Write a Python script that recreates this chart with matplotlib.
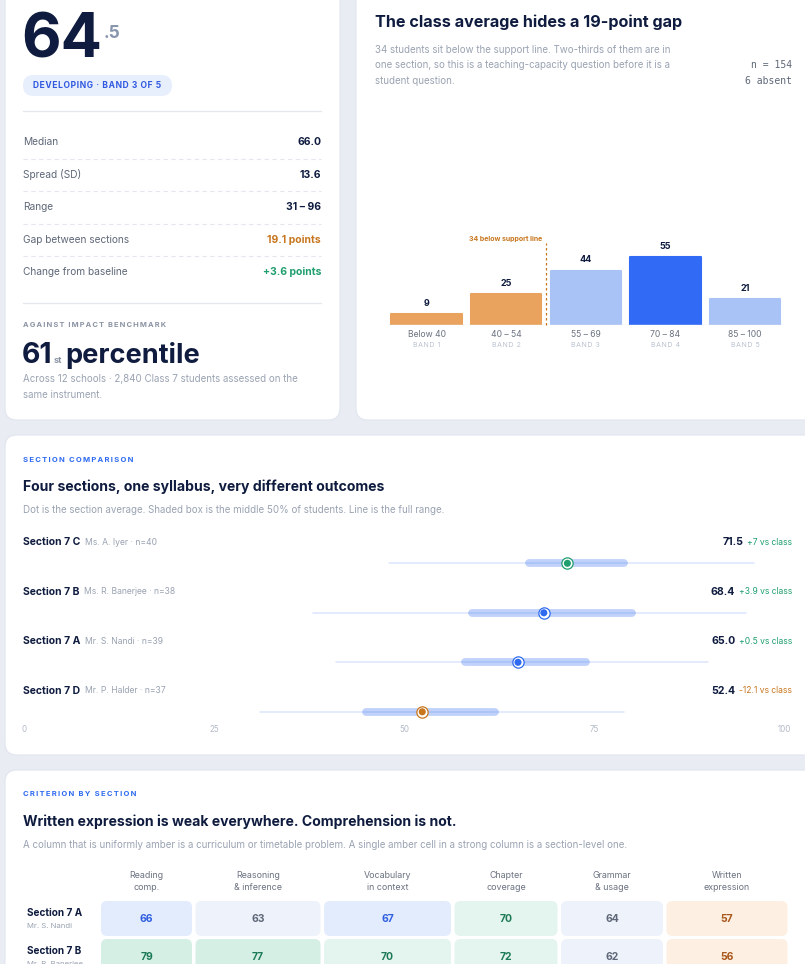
import numpy as np
import matplotlib
matplotlib.use("Agg")
import matplotlib.pyplot as plt
from matplotlib.patches import FancyBboxPatch

plt.rcParams['font.family'] = ['Inter', 'DejaVu Sans']

# ---- data ----
headline_whole = "64"
headline_frac = ".5"
class_mean = 64.5
badge_text = "DEVELOPING · BAND 3 OF 5"
stat_labels = ["Median", "Spread (SD)", "Range", "Gap between sections", "Change from baseline"]
stat_values = ["66.0", "13.6", "31 – 96", "19.1 points", "+3.6 points"]
stat_tone = ["plain", "plain", "plain", "warn", "good"]
percentile = 61

band_ranges = ["Below 40", "40 – 54", "55 – 69", "70 – 84", "85 – 100"]
band_names = ["BAND 1", "BAND 2", "BAND 3", "BAND 4", "BAND 5"]
band_counts = [9, 25, 44, 55, 21]
below_support = 34
n_total = 154
n_absent = 6

sections = ["Section 7 C", "Section 7 B", "Section 7 A", "Section 7 D"]
teachers = ["Ms. A. Iyer", "Ms. R. Banerjee", "Mr. S. Nandi", "Mr. P. Halder"]
n_students = [40, 38, 39, 37]
sec_mean = [71.5, 68.4, 65.0, 52.4]
sec_min = [48, 38, 41, 31]
sec_q1 = [66, 58.5, 57.5, 44.5]
sec_q3 = [79.5, 80.5, 74.5, 62.5]
sec_max = [96, 95, 90, 79]

criteria = ["Reading\ncomp.", "Reasoning\n& inference", "Vocabulary\nin context",
            "Chapter\ncoverage", "Grammar\n& usage", "Written\nexpression"]
heat_sections = ["Section 7 A", "Section 7 B"]
heat_teachers = ["Mr. S. Nandi", "Mr. R. Banerjee"]
scores_7a = [66, 63, 67, 70, 64, 57]
scores_7b = [79, 77, 70, 72, 62, 56]

# ---- colours ----
NAVY = "#0f1c3f"
GREY = "#5f6878"
LIGHT = "#9aa3b2"
BLUE = "#2f6bf0"
ORANGE = "#c8761e"
GREEN = "#1f9e6e"
BG = "#e9ecf3"

W, H = 805, 964
fig = plt.figure(figsize=(W / 100, H / 100), dpi=100)
fig.patch.set_facecolor(BG)


def px(x0, y0, x1, y1):
    return [x0 / W, 1 - y1 / H, (x1 - x0) / W, (y1 - y0) / H]


def track(s, sp="\u2009"):
    # fake letter spacing for the small caps labels
    return sp.join(s)


bg = fig.add_axes([0, 0, 1, 1])
bg.set_xlim(0, W)
bg.set_ylim(H, 0)
bg.axis("off")
bg.set_facecolor("none")


def card(x, y, w, h):
    bg.add_patch(FancyBboxPatch((x, y), w, h, boxstyle="round,pad=0,rounding_size=12",
                                fc="white", ec="#e1e5ee", lw=0.8))


card(5, -30, 335, 450)
card(356, -30, 480, 450)
card(5, 435, 830, 320)
card(5, 770, 830, 240)

# ---- left card: headline number + stats ----
t64 = bg.text(21, 58, headline_whole, fontsize=44, fontweight="bold", color=NAVY, va="baseline")
bg.annotate(headline_frac, xy=(1, 38), xycoords=(t64, "data"), xytext=(1, 0),
            textcoords="offset points", fontsize=12.5, fontweight="bold", color="#8796ad",
            va="baseline", ha="left")

bg.add_patch(FancyBboxPatch((23, 75), 149, 21, boxstyle="round,pad=0,rounding_size=10.5",
                            fc="#e7eefc", ec="none"))
bg.text(97.5, 86, track(badge_text, "\u200a"), fontsize=6.1, fontweight="bold", color="#3159e0",
        ha="center", va="center")

bg.plot([23, 321], [111, 111], color="#e4e7ee", lw=0.9)
row_y = [142, 175, 207, 240, 272]
tone_col = {"plain": NAVY, "warn": ORANGE, "good": GREEN}
for i, (lab, val, tone) in enumerate(zip(stat_labels, stat_values, stat_tone)):
    y = row_y[i]
    bg.text(23, y, lab, fontsize=7.3, color=GREY, va="center")
    bg.text(321, y, val, fontsize=7.5, fontweight="bold", color=tone_col[tone], ha="right", va="center")
    if i < len(stat_labels) - 1:
        yy = (row_y[i] + row_y[i + 1]) / 2
        bg.plot([23, 321], [yy, yy], color="#e4e7ee", lw=0.8, ls=(0, (4, 3)))
bg.plot([23, 321], [303, 303], color="#e4e7ee", lw=0.9)

bg.text(23, 325, track("AGAINST IMPACT BENCHMARK"), fontsize=5.4, fontweight="bold",
        color="#8b93a3", va="center")
t61 = bg.text(22, 363, str(percentile), fontsize=20.5, fontweight="bold", color=NAVY, va="baseline")
tst = bg.annotate("st", xy=(1, 363), xycoords=(t61, "data"), xytext=(0.5, 0),
                  textcoords="offset points", fontsize=6.5, fontweight="bold", color="#8b93a3",
                  va="baseline", ha="left")
bg.annotate("percentile", xy=(1, 363), xycoords=(tst, "data"), xytext=(2.5, 0),
            textcoords="offset points", fontsize=19.5, fontweight="bold", color=NAVY,
            va="baseline", ha="left")
bg.text(23, 379, "Across 12 schools · 2,840 Class 7 students assessed on the", fontsize=7.0,
        color=LIGHT, va="center")
bg.text(23, 395, "same instrument.", fontsize=7.0, color=LIGHT, va="center")

# ---- right card: band distribution ----
bg.text(375, 22, "The class average hides a 19-point gap", fontsize=11.6, fontweight="bold",
        color=NAVY, va="center")
sub = ["34 students sit below the support line. Two-thirds of them are in",
       "one section, so this is a teaching-capacity question before it is a",
       "student question."]
for k, line in enumerate(sub):
    bg.text(375, 50 + 15.5 * k, line, fontsize=7.0, color=LIGHT, va="center")
bg.text(792, 65.5, f"n = {n_total}", fontsize=7.0, color=GREY, ha="right", va="center",
        family="DejaVu Sans Mono")
bg.text(792, 81, f"{n_absent} absent", fontsize=7.0, color=GREY, ha="right", va="center",
        family="DejaVu Sans Mono")

axb = fig.add_axes(px(386.7, 238.5, 785, 325))
axb.set_xlim(-0.5, 4.5)
axb.set_ylim(0, 70)
axb.axis("off")
mode = int(np.argmax(band_counts))
bar_cols = []
for i in range(len(band_counts)):
    if i < 2:
        bar_cols.append("#e9a35e")
    elif i == mode:
        bar_cols.append("#316bf5")
    else:
        bar_cols.append("#a9c3f7")
bars = axb.bar(range(len(band_counts)), band_counts, width=0.88, color=bar_cols,
               edgecolor=bar_cols, lw=1.5, joinstyle="round")
axb.axhline(0, color="#e8ecf4", lw=1)
for i, v in enumerate(band_counts):
    axb.annotate(str(v), xy=(i, v), xytext=(0, 4.5), textcoords="offset points", ha="center",
                 va="bottom", fontsize=6.5, fontweight="bold", color=NAVY)
    axb.annotate(band_ranges[i], xy=(i, 0), xytext=(0, -6.5), textcoords="offset points",
                 ha="center", va="center", fontsize=6.2, color="#6b7280", annotation_clip=False)
    axb.annotate(track(band_names[i], "\u200a"), xy=(i, 0), xytext=(0, -14.5),
                 textcoords="offset points", ha="center", va="center", fontsize=5,
                 color="#b9c1d0", annotation_clip=False)
axb.plot([1.5, 1.5], [0, 66], color=ORANGE, lw=0.9, ls=(0, (2, 2)), clip_on=False)
axb.text(1.45, 70, f"{below_support} below support line", fontsize=5.0, fontweight="bold",
         color=ORANGE, ha="right", va="center", clip_on=False)

# ---- section comparison ----
bg.text(23, 460, track("SECTION COMPARISON"), fontsize=5.5, fontweight="bold", color=BLUE,
        va="center")
bg.text(23, 487, "Four sections, one syllabus, very different outcomes", fontsize=10.1,
        fontweight="bold", color=NAVY, va="center")
bg.text(23, 510, "Dot is the section average. Shaded box is the middle 50% of students. Line is the full range.",
        fontsize=7.0, color=LIGHT, va="center")

axd = fig.add_axes(px(24, 520, 784, 722))
axd.set_xlim(0, 100)
axd.set_ylim((722 - 563.3) / 49.5, (520 - 563.3) / 49.5)
for s in axd.spines.values():
    s.set_visible(False)
axd.set_yticks([])
axd.set_xticks([0, 25, 50, 75, 100])
axd.tick_params(axis="x", length=0, pad=2, labelsize=5.8, labelcolor="#b3bbc8")
axd.set_facecolor("none")
for i, name in enumerate(sections):
    diff = sec_mean[i] - class_mean
    if diff >= 5:
        c, dc = GREEN, GREEN
    elif diff >= 0:
        c, dc = BLUE, GREEN
    else:
        c, dc = ORANGE, ORANGE
    axd.plot([sec_min[i], sec_max[i]], [i, i], color=BLUE, alpha=0.17, lw=1.1,
             solid_capstyle="round")
    axd.plot([sec_q1[i] + 0.5, sec_q3[i] - 0.5], [i, i], color=BLUE, alpha=0.3, lw=5.6,
             solid_capstyle="round")
    axd.scatter([sec_mean[i]], [i], s=66, facecolor="white", edgecolor=c, lw=0.9, zorder=3)
    axd.scatter([sec_mean[i]], [i], s=26, facecolor=c, edgecolor="none", zorder=4)
    lt = axd.text(-0.1, i - 0.43, name, fontsize=7.5, fontweight="bold", color=NAVY, va="center")
    axd.annotate(f"{teachers[i]} · n={n_students[i]}", xy=(1, 0.5), xycoords=lt, xytext=(3, 0),
                 textcoords="offset points", fontsize=6.2, color=LIGHT, va="center")
    dtxt = f"{diff:+.1f}"
    if dtxt.endswith(".0"):
        dtxt = dtxt[:-2]
    rt = axd.text(101.05, i - 0.43, f"{dtxt} vs class", fontsize=6.1, color=dc, ha="right",
                  va="center")
    axd.annotate(f"{sec_mean[i]:.1f}", xy=(0, 0.5), xycoords=rt, xytext=(-2.5, 0),
                 textcoords="offset points", fontsize=7.6, fontweight="bold", color=NAVY,
                 ha="right", va="center")

# ---- criterion heatmap ----
bg.text(23, 794, track("CRITERION BY SECTION"), fontsize=5.5, fontweight="bold", color=BLUE,
        va="center")
bg.text(23, 822, "Written expression is weak everywhere. Comprehension is not.", fontsize=10.1,
        fontweight="bold", color=NAVY, va="center")
bg.text(23, 845, "A column that is uniformly amber is a curriculum or timetable problem. "
        "A single amber cell in a strong column is a section-level one.",
        fontsize=7.0, color=LIGHT, va="center")

col_w = [91, 125, 127, 103, 102, 121]
gap = 3.5
row_h, row_pitch = 35, 38
axh = fig.add_axes(px(101, 901, 789, 901 + 2 * row_pitch))
axh.set_xlim(0, 688)
axh.set_ylim(2 * row_pitch, 0)
axh.axis("off")


def cell_style(v):
    if v < 60:
        return "#fdf0e3", "#a9561a"
    if v < 65:
        return "#eef2fa", "#5f6878"
    if v < 70:
        return "#e3ecfc", "#2f5fe0"
    if v < 75:
        return "#e4f4ee", "#1b7a55"
    return "#d5efe5", "#1b7a55"


edges = np.concatenate([[0], np.cumsum(np.array(col_w) + gap)])
for r, scores in enumerate([scores_7a, scores_7b]):
    y0 = r * row_pitch
    for j, v in enumerate(scores):
        fc, tc = cell_style(v)
        axh.add_patch(FancyBboxPatch((edges[j], y0), col_w[j], row_h,
                                     boxstyle="round,pad=0,rounding_size=6", fc=fc, ec="none"))
        axh.text(edges[j] + col_w[j] / 2, y0 + row_h / 2, str(v), fontsize=7.5, fontweight="bold",
                 color=tc, ha="center", va="center")
    axh.text(-74, y0 + 12, heat_sections[r], fontsize=7.2, fontweight="bold", color=NAVY,
             va="center", clip_on=False)
    axh.text(-74, y0 + 25, heat_teachers[r], fontsize=5.6, color=LIGHT, va="center", clip_on=False)
for j, name in enumerate(criteria):
    axh.text(edges[j] + col_w[j] / 2, -19.5, name, fontsize=6.4, color="#6b7280", ha="center",
             va="center", linespacing=1.35, clip_on=False)

fig.savefig("out.png", dpi=100, facecolor=BG)
